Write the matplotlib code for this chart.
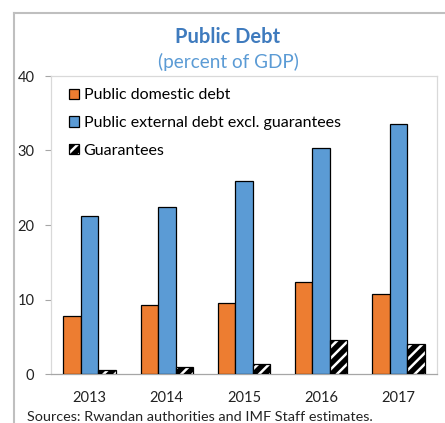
import matplotlib
matplotlib.use("Agg")
import matplotlib.pyplot as plt
from matplotlib.patches import Patch
from matplotlib.lines import Line2D
import numpy as np

plt.rcParams['font.family'] = ['Lato', 'DejaVu Sans']
plt.rcParams['hatch.linewidth'] = 1.8

years = ["2013", "2014", "2015", "2016", "2017"]
domestic = [7.8, 9.2, 9.5, 12.3, 10.8]
external = [21.2, 22.4, 25.9, 30.3, 33.5]
guarantees = [0.6, 0.9, 1.3, 4.6, 4.0]

orange = "#ED7D31"
blue = "#5B9BD5"
grid_gray = "#D9D9D9"

fig = plt.figure(figsize=(4.45, 4.23), dpi=100)
ax = fig.add_axes([51/445, 1 - 374/423, (437 - 51)/445, (374 - 76)/423])

x = np.arange(len(years))
w = 0.227
ax.bar(x - w, domestic, w, color=orange, edgecolor="black", linewidth=0.9, zorder=3)
ax.bar(x, external, w, color=blue, edgecolor="black", linewidth=0.9, zorder=3)
# hatched guarantees: black fill with white stripes, then a black outline
ax.bar(x + w, guarantees, w, color="black", edgecolor="white", hatch="///", linewidth=0, zorder=3)
ax.bar(x + w, guarantees, w, color="none", edgecolor="black", linewidth=0.9, zorder=4)

ax.set_xlim(-0.5, len(years) - 0.5)
ax.set_ylim(0, 40)
ax.set_yticks([0, 10, 20, 30, 40])
ax.set_xticks(x)
ax.set_xticklabels(years)
for s in ["top", "right", "left"]:
    ax.spines[s].set_color(grid_gray)
    ax.spines[s].set_linewidth(0.9)
ax.spines["bottom"].set_color("#A6A6A6")
ax.spines["bottom"].set_linewidth(0.9)
ax.tick_params(axis="y", length=4, width=0.8, color="#A6A6A6", pad=8, labelsize=10.5, labelcolor="#222222")
ax.tick_params(axis="x", length=0, pad=12, labelsize=10.5, labelcolor="#222222")

handles = [
    Patch(facecolor=orange, edgecolor="black", linewidth=0.9),
    Patch(facecolor=blue, edgecolor="black", linewidth=0.9),
    (Patch(facecolor="black", edgecolor="white", hatch="///", linewidth=0),
     Patch(facecolor="none", edgecolor="black", linewidth=0.9)),
]
labels = ["Public domestic debt", "Public external debt excl. guarantees", "Guarantees"]
leg = ax.legend(handles, labels, loc="upper left", bbox_to_anchor=(0.03, 0.98),
                frameon=False, fontsize=11.5, handlelength=0.62, handleheight=0.62,
                handletextpad=0.3, labelspacing=0.86, borderaxespad=0)

fig.text(228/445, 1 - 37/423, "Public Debt", ha="center", va="center",
         fontsize=14.5, fontweight="bold", color="#3F7BBE")
fig.text(228/445, 1 - 62/423, "(percent of GDP)", ha="center", va="center",
         fontsize=13.6, color="#5B9BD5")
fig.text(27/445, 1 - 417/423, "Sources: Rwandan authorities and IMF Staff estimates.",
         ha="left", va="center", fontsize=10.4, color="#222222")

# outer frame
fig.add_artist(Line2D([14/445, 14/445], [0, 1 - 13/423], transform=fig.transFigure,
                      color="#BFBFBF", linewidth=1.5))
fig.add_artist(Line2D([14/445, 1], [1 - 13/423, 1 - 13/423], transform=fig.transFigure,
                      color="#BFBFBF", linewidth=1.5))

fig.savefig("out.png", dpi=100)
